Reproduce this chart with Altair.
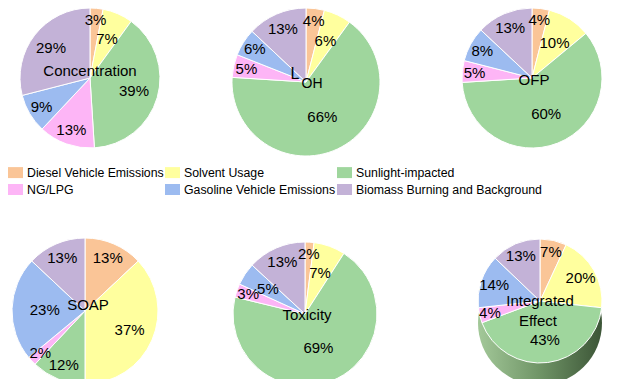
import altair as alt
import pandas as pd

categories = [
    "Diesel Vehicle Emissions",
    "Solvent Usage",
    "Sunlight-impacted",
    "NG/LPG",
    "Gasoline Vehicle Emissions",
    "Biomass Burning and Background",
]
colors = ["#FAC597", "#FFFF9E", "#9FD69D", "#FDB5F6", "#9CBBF0", "#C3B2D7"]

concentration = [3, 7, 39, 13, 9, 29]
loh = [4, 6, 66, 5, 6, 13]
ofp = [4, 10, 60, 5, 8, 13]
soap = [13, 37, 12, 2, 23, 13]
toxicity = [2, 7, 69, 3, 5, 13]
integrated = [7, 20, 43, 4, 14, 13]

pie_names = ["Concentration", "LOH", "OFP", "SOAP", "Toxicity", "Integrated Effect"]
pie_values = [concentration, loh, ofp, soap, toxicity, integrated]

rows = []
for name, vals in zip(pie_names, pie_values):
    total = sum(vals)
    for i, (c, v) in enumerate(zip(categories, vals)):
        rows.append({"pie": name, "cat": c, "idx": i, "value": v,
                     "pct": v / total * 100, "label": f"{v}%"})
df = pd.DataFrame(rows)

FONT = "Liberation Sans"
color_scale = alt.Scale(domain=categories, range=colors)
theta_scale = alt.Scale(domain=[0, 100])
legend = alt.Legend(
    title=None, orient="none", legendX=0, legendY=157, direction="horizontal",
    columns=3, symbolType="M-1,-0.733L1,-0.733L1,0.733L-1,0.733Z", symbolSize=225,
    symbolStrokeWidth=0, labelFont=FONT, labelFontSize=12.3, labelColor="black",
    labelLimit=400, columnPadding=1, rowPadding=3, labelOffset=4, padding=0,
)


def pie(name, cx, cy, r, shadow=0, inner=0.75):
    base = alt.Chart(df).transform_filter(alt.datum.pie == name).transform_window(
        cum="sum(pct)", prev="lag(pct)",
        sort=[alt.SortField("idx", order="ascending")], frame=[None, 0]
    ).transform_calculate(
        start="datum.cum - datum.pct",
        mid="datum.cum - datum.pct / 2",
        lr=f"{r}*(0.85-0.5*datum.pct/100)*((datum.prev != null && datum.prev < 5) ? {inner} : 1)",
    ).encode(x=alt.value(cx), y=alt.value(cy))
    layers = []
    if shadow:
        sh = alt.Chart(df).transform_filter(
            (alt.datum.pie == name) & (alt.datum.idx == 0)
        ).mark_arc(
            radius=r, theta=0, theta2=6.2832,
            fill=alt.Gradient(
                gradient="linear", x1=0, x2=1, y1=0, y2=0,
                stops=[alt.GradientStop(color="#a3c899", offset=0),
                       alt.GradientStop(color="#6f9466", offset=0.5),
                       alt.GradientStop(color="#3c5537", offset=1)],
            ),
        ).encode(x=alt.value(cx), y=alt.value(cy + shadow))
        layers.append(sh)
    arc = base.mark_arc(radius=r, stroke="white", strokeWidth=1).encode(
        theta=alt.Theta("start:Q", scale=theta_scale),
        theta2="cum:Q",
        color=alt.Color("cat:N", scale=color_scale, legend=legend),
    )
    text = base.mark_text(font=FONT, fontSize=15, color="black").encode(
        theta=alt.Theta("mid:Q", scale=theta_scale),
        radius=alt.Radius("lr:Q", scale=None),
        text="label:N",
    )
    layers += [arc, text]
    return layers


def title(txt, x, y, size=15):
    return alt.Chart(pd.DataFrame({"t": [txt]})).mark_text(
        font=FONT, fontSize=size, color="black", baseline="middle"
    ).encode(text="t:N", x=alt.value(x), y=alt.value(y))


layers = []
layers += pie("Concentration", 82, 70, 70)
layers += pie("LOH", 298, 74, 74)
layers += pie("OFP", 524, 70, 70)
layers += pie("SOAP", 77, 303, 73)
layers += pie("Toxicity", 297, 306, 72)
layers += pie("Integrated Effect", 532, 293, 62, shadow=22, inner=1)

layers += [
    title("Concentration", 82, 63),
    title("L", 287, 66, 16),
    title("OH", 304, 76, 14),
    title("OFP", 526, 72),
    title("SOAP", 80, 297),
    title("Toxicity", 299, 307),
    title("Integrated", 532, 293),
    title("Effect", 530, 313),
]

chart = alt.layer(*layers).properties(
    width=614, height=371, padding=0,
    autosize=alt.AutoSizeParams(type="none"),
).configure_view(stroke=None)

chart.save("out.html", embed_options={"renderer": "svg", "actions": False})
